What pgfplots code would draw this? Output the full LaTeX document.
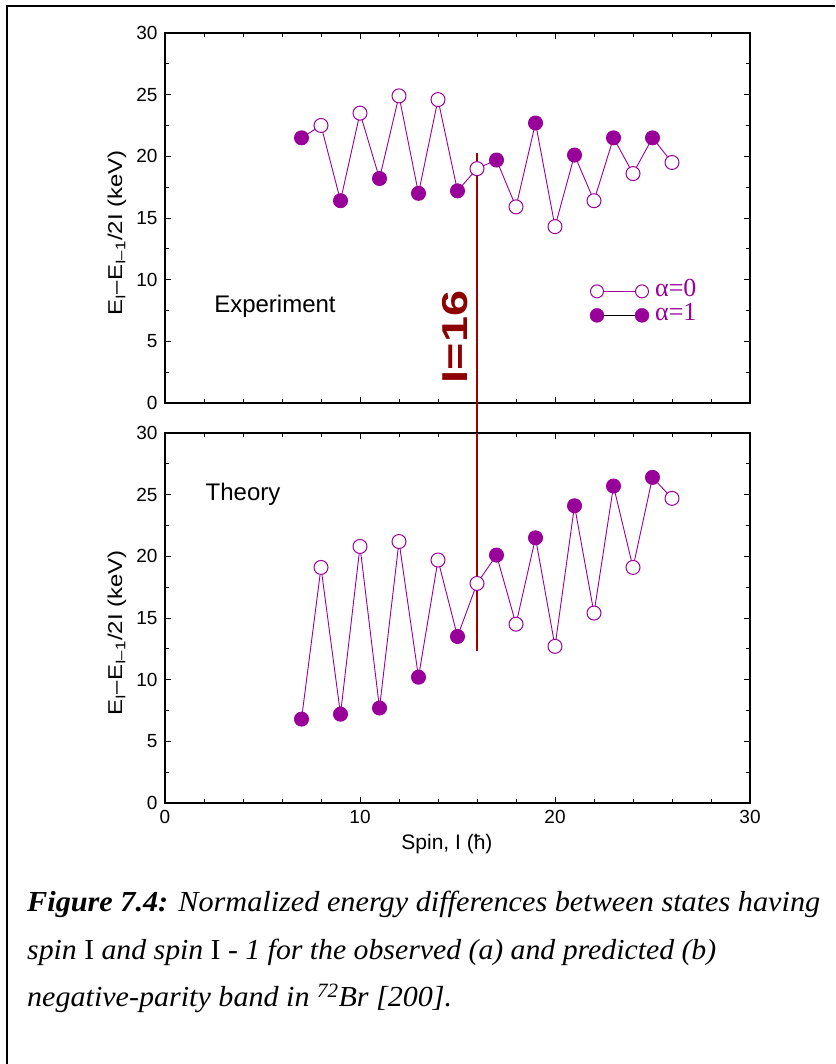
\documentclass[border=0pt]{standalone}
\usepackage{pgfplots}
\pgfplotsset{compat=1.18}
\usepackage{pgfplotstable}
\usepackage{fontspec}
\setmainfont{Liberation Sans}
\newfontfamily\serif{Liberation Serif}
\definecolor{mypurple}{RGB}{153,0,153}
\definecolor{dred}{RGB}{140,0,0}
\definecolor{lred}{RGB}{165,0,0}

\pgfplotstableread{
I E
7 21.5
8 22.5
9 16.4
10 23.5
11 18.2
12 24.9
13 17.0
14 24.6
15 17.2
16 19.0
17 19.7
18 15.9
19 22.7
20 14.3
21 20.1
22 16.4
23 21.5
24 18.6
25 21.5
26 19.5
}\exptab

\pgfplotstableread{
I E
7 6.8
8 19.1
9 7.2
10 20.8
11 7.7
12 21.2
13 10.2
14 19.7
15 13.5
16 17.8
17 20.1
18 14.5
19 21.5
20 12.7
21 24.1
22 15.4
23 25.7
24 19.1
25 26.4
26 24.7
}\thtab

\pgfplotsset{
  panel/.style={
    scale only axis, width=585pt, height=370pt,
    xmin=0, xmax=30, ymin=0, ymax=30,
    xtick={0,10,20,30}, ytick={0,5,...,30},
    minor x tick num=4, minor y tick num=1,
    tick align=inside, tick pos=both,
    major tick length=6pt, minor tick length=4pt,
    axis line style={line width=1.2pt},
    every tick/.style={black, line width=0.9pt},
    tick label style={font=\fontsize{19}{19}\selectfont},
    yticklabel style={xshift=-4pt},
    xticklabel style={yshift=-4pt},
    /pgf/number format/assume math mode=true,
    clip=false,
    ylabel={\scalebox{1.2}[1]{E\textsubscript{I}–E\textsubscript{I–1}/2I (keV)}},
    ylabel style={at={(axis description cs:-0.082,0.46)}, anchor=center, font=\fontsize{20}{20}\selectfont},
  },
  conn/.style={mypurple, line width=0.9pt, no marks, forget plot},
  openm/.style={only marks, mark=*, mark size=7pt, mark options={draw=mypurple, fill=white, line width=1pt},
    x filter/.expression={mod(x,2)==0 ? x : nan}},
  fullm/.style={only marks, mark=*, mark size=7pt, mark options={draw=mypurple, fill=mypurple, line width=1pt},
    x filter/.expression={mod(x,2)==1 ? x : nan}},
}

\begin{document}
\begin{tikzpicture}[x=1pt,y=1pt]
\useasboundingbox (0,0) rectangle (835,1064);
\draw[line width=2pt] (835,1058) -- (7,1058) -- (7,0);

% top panel: experiment
\begin{axis}[panel, at={(165pt,661pt)}, anchor=south west, xticklabels={},
  legend style={at={(axis cs:21.62,10.2)}, anchor=north west, draw=none, fill=none,
    font=\serif\fontsize{26}{26}\selectfont, text=mypurple, column sep=6pt, row sep=0pt,
    nodes={inner sep=0pt, text height=17pt, text depth=7pt}},
  legend cell align=left]
\addplot[lred, line width=1.3pt, forget plot] coordinates {(16,20.3) (16,-2.43)};
\addplot[conn] table {\exptab};
\addplot[openm, legend image code/.code={
    \draw[mypurple, line width=1pt] (0pt,0pt) -- (45pt,0pt);
    \draw[mypurple, fill=white, line width=1pt] (0pt,0pt) circle (6.5pt) (45pt,0pt) circle (6.5pt);}] table {\exptab};
\addlegendentry{α=0}
\addplot[fullm, legend image code/.code={
    \draw[black, line width=1pt] (0pt,0pt) -- (45pt,0pt);
    \fill[mypurple] (0pt,0pt) circle (7pt) (45pt,0pt) circle (7pt);}] table {\exptab};
\addlegendentry{α=1}
\node[font=\fontsize{24}{24}\selectfont] at (axis cs:5.64,7.87) {Experiment};
\node[rotate=90, text=dred, font=\bfseries\fontsize{36}{36}\selectfont] at (axis cs:14.87,5.35) {\scalebox{1.3}[1]{I=16}};
\end{axis}

% bottom panel: theory
\begin{axis}[panel, at={(165pt,261pt)}, anchor=south west,
  xlabel={Spin, I (ħ)},
  xlabel style={at={(axis description cs:0.482,-0.075)}, anchor=north, font=\fontsize{21}{21}\selectfont}]
\addplot[lred, line width=1.3pt, forget plot] coordinates {(16,30) (16,12.3)};
\addplot[conn] table {\thtab};
\addplot[openm] table {\thtab};
\addplot[fullm] table {\thtab};
\node[font=\fontsize{24}{24}\selectfont] at (axis cs:4.0,25.06) {Theory};
\end{axis}

% caption
\node[anchor=base west, inner sep=0pt, font=\serif\fontsize{29}{29}\selectfont] at (27,152)
  {\resizebox{793pt}{\height}{\textbf{\textit{Figure 7.4:}} \textit{Normalized energy differences between states having}}};
\node[anchor=base west, inner sep=0pt, font=\serif\fontsize{29}{29}\selectfont] at (27,104)
  {\resizebox{689pt}{\height}{\textit{spin} I \textit{and spin} I - \textit{1 for the observed (a) and predicted (b)}}};
\node[anchor=base west, inner sep=0pt, font=\serif\fontsize{29}{29}\selectfont] at (27,57)
  {\resizebox{425pt}{\height}{\textit{negative-parity band in \textsuperscript{72}Br [200].}}};
\end{tikzpicture}
\end{document}
